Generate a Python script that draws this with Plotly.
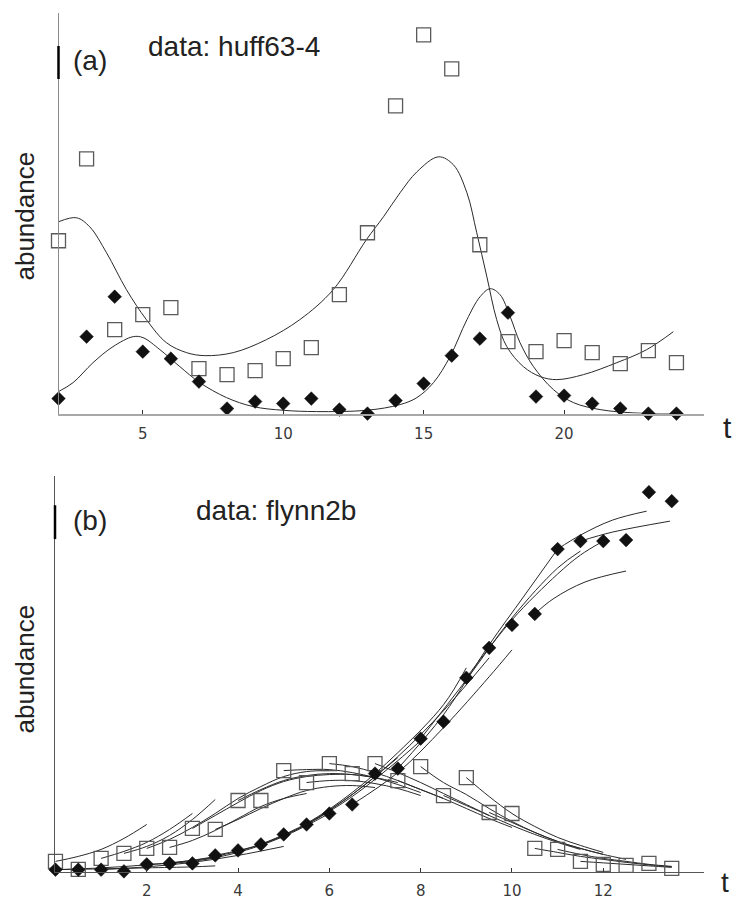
import plotly.graph_objects as go

# ---------------- panel (a): huff63-4 ----------------
A_T = list(range(2, 25))
A_PREY = [17.3, 25.5, 8.4, 9.9, 10.6, 4.5, 3.9, 4.3, 5.5, 6.6, 11.9, 18.1,
          30.8, 37.9, 34.5, 16.9, 7.2, 6.2, 7.3, 6.1, 5.0, 6.3, 5.1]
A_PRED = [1.5, 7.7, 11.7, 6.2, 5.5, 3.2, 0.5, 1.2, 1.0, 1.5, 0.4, 0.0,
          1.3, 3.0, 5.8, 7.5, 10.1, 1.7, 1.8, 1.0, 0.5, 0.0, 0.0]

A_FIT_PREY_T = [2.0, 2.64, 3.11, 3.71, 4.42, 5.13, 5.84, 6.56, 7.21, 8.22, 9.4,
                10.59, 11.78, 12.96, 13.57, 14.16, 14.76, 15.53, 16.06, 16.54,
                16.89, 17.25, 17.6, 17.96, 18.55, 19.15, 19.74, 20.69, 21.88,
                22.94, 23.89]
A_FIT_PREY_Y = [19.2, 19.6, 18.7, 16.1, 12.4, 9.4, 7.1, 6.1, 5.8, 6.1, 7.4,
                9.4, 12.4, 17.4, 19.7, 22.1, 24.2, 25.7, 24.9, 22.1, 18.1,
                13.7, 9.4, 6.7, 4.7, 3.7, 3.4, 3.9, 5.1, 6.4, 8.2]
A_FIT_PRED_T = [2.0, 2.52, 3.23, 3.94, 4.66, 5.01, 5.61, 6.32, 7.03, 7.98, 8.93,
                10.0, 11.18, 12.98, 14.16, 14.76, 15.35, 15.94, 16.54, 17.01,
                17.37, 17.72, 18.08, 18.43, 18.91, 19.62, 20.33, 21.28, 22.47,
                23.89]
A_FIT_PRED_Y = [2.2, 3.1, 5.1, 6.7, 7.7, 7.6, 6.4, 4.7, 3.1, 1.6, 0.7, 0.33,
                0.2, 0.33, 0.9, 1.6, 3.1, 5.7, 9.4, 11.7, 12.5, 11.9, 9.7, 7.1,
                4.7, 2.4, 1.1, 0.4, 0.07, 0.0]

# ---------------- panel (b): flynn2b ----------------
B_T = [0, 0.5, 1, 1.5, 2, 2.5, 3, 3.5, 4, 4.5, 5, 5.5, 6, 6.5, 7, 7.5, 8, 8.5,
       9, 9.5, 10, 10.5, 11, 11.5, 12, 12.5, 13, 13.5]
B_PREY = [1.1, 0.3, 1.4, 1.9, 2.4, 2.5, 4.4, 4.3, 7.2, 7.2, 10.2, 9.0, 10.9,
          9.9, 10.9, 9.2, 10.6, 7.7, 9.5, 6.0, 5.9, 2.4, 2.3, 1.1, 0.8, 0.7,
          0.9, 0.4]
B_PRED = [0.27, 0.27, 0.27, 0.1, 0.8, 0.9, 0.9, 1.7, 2.2, 2.8, 3.8, 4.8, 5.9,
          6.8, 9.9, 10.4, 13.4, 15.1, 19.5, 22.5, 24.8, 25.9, 32.4, 33.2, 33.2,
          33.3, 38.1, 37.2]

# short fitted trajectories (multiple shooting segments)
B_FIT_PREY_T = [
    [0, 0.5, 1, 1.5, 2],
    [1, 1.5, 2, 2.5, 3],
    [1.5, 2, 2.5, 3, 3.5],
    [2, 2.5, 3, 3.5, 4, 4.5, 5, 5.5, 6],
    [2.5, 3, 3.5, 4, 4.5, 5, 5.5],
    [3, 3.5, 4, 4.5, 5, 5.5, 6, 6.5, 7],
    [3.5, 4, 4.5, 5, 5.5, 6, 6.5, 7],
    [4, 4.5, 5, 5.5, 6, 6.5, 7, 7.5],
    [5, 5.5, 6, 6.5, 7, 7.5, 8],
    [5.5, 6, 6.5, 7, 7.5, 8],
    [6, 6.5, 7, 7.5, 8, 8.5],
    [7, 7.5, 8, 8.5, 9, 9.5],
    [7.5, 8, 8.5, 9, 9.5, 10],
    [8, 8.5, 9, 9.5, 10, 10.5, 11, 11.5, 12],
    [8.5, 9, 9.5, 10, 10.5, 11, 11.5],
    [9, 9.5, 10, 10.5, 11, 11.5, 12],
    [9.5, 10, 10.5, 11, 11.5, 12, 12.5],
    [10.5, 11, 11.5, 12, 12.5, 13, 13.5],
    [11, 11.5, 12, 12.5, 13, 13.5],
    [11.5, 12, 12.5, 13, 13.5],
]
B_FIT_PREY_Y = [
    [1.1, 1.6, 2.3, 3.4, 4.8],
    [1.4, 2.1, 3.0, 4.3, 5.9],
    [1.9, 2.6, 3.7, 5.3, 7.3],
    [2.4, 3.3, 4.5, 5.9, 7.4, 8.6, 9.6, 10.1, 10.2],
    [2.5, 3.2, 4.2, 5.4, 6.6, 7.4, 7.9],
    [4.4, 5.7, 7.0, 8.2, 9.1, 9.6, 9.8, 9.8, 9.5],
    [4.3, 5.3, 6.4, 7.4, 8.2, 8.6, 8.7, 8.5],
    [7.2, 8.3, 9.2, 9.7, 9.9, 9.8, 9.5, 9.0],
    [10.2, 10.3, 10.3, 10.0, 9.5, 8.8, 8.0],
    [9.0, 9.2, 9.2, 8.9, 8.4, 7.7],
    [10.9, 10.6, 10.0, 9.2, 8.3, 7.4],
    [10.9, 10.0, 9.0, 7.9, 6.8, 5.7],
    [9.2, 8.3, 7.4, 6.4, 5.4, 4.5],
    [10.6, 9.0, 7.8, 6.4, 5.1, 4.0, 3.1, 2.4, 1.8],
    [7.7, 6.7, 5.7, 4.7, 3.8, 3.0, 2.3],
    [9.5, 7.6, 5.9, 4.6, 3.5, 2.7, 2.0],
    [6.0, 5.0, 4.0, 3.1, 2.4, 1.8, 1.3],
    [2.4, 2.0, 1.6, 1.3, 1.0, 0.75, 0.55],
    [2.3, 1.8, 1.4, 1.1, 0.8, 0.6],
    [1.1, 0.95, 0.8, 0.65, 0.5],
]
B_FIT_PRED_T = [
    [0, 1, 2, 3, 3.5],
    [0, 1, 2, 3, 3.5],
    [1, 2, 3, 4, 5],
    [2, 3, 4, 5, 6],
    [2.5, 3.5, 4.5, 5.5, 6.5, 7.5],
    [3.5, 4.5, 5.5, 6.5, 7.5, 8],
    [4.5, 5.5, 6.5, 7.5, 8.5, 9],
    [5.5, 6.5, 7.5, 8.5, 9.5],
    [6.5, 7.5, 8.5, 9.5, 10],
    [7.5, 8.5, 9.5, 10.25, 11],
    [8, 9, 10, 11, 11.5],
    [9, 10, 11, 11.5, 12],
    [10.5, 10.9, 11.6, 12.5],
    [11, 11.5, 12.2, 12.95],
    [11.5, 12.2, 13.46],
]
B_FIT_PRED_Y = [
    [0.27, 0.35, 0.45, 0.55, 0.65],
    [0.27, 0.45, 0.75, 1.2, 1.5],
    [0.27, 0.55, 1.0, 1.7, 2.6],
    [0.8, 1.1, 2.0, 3.6, 5.9],
    [0.9, 1.6, 2.8, 4.8, 7.8, 11.5],
    [1.7, 2.8, 4.8, 7.6, 11.2, 13.2],
    [2.8, 4.9, 8.0, 12.0, 16.8, 20.5],
    [4.8, 7.8, 11.6, 16.2, 21.5],
    [6.8, 10.0, 14.5, 19.6, 22.3],
    [10.4, 15.8, 22.8, 27.6, 32.4],
    [13.4, 19.3, 25.5, 30.5, 32.2],
    [19.5, 25.3, 29.9, 31.8, 33.2],
    [25.9, 27.4, 29.1, 30.2],
    [32.4, 33.8, 35.3, 36.2],
    [33.2, 34.1, 35.2],
]


def join(segs_t, segs_y):
    xs, ys = [], []
    for t, y in zip(segs_t, segs_y):
        xs += list(t) + [None]
        ys += list(y) + [None]
    return xs, ys


LINE = dict(color="#2a2a2a", width=1, shape="spline", smoothing=1.0)
SQ = dict(symbol="square-open", size=14, color="#5a5a5a", line=dict(width=1.3, color="#5a5a5a"))
DI = dict(symbol="diamond", size=10.5, color="#111111", line=dict(width=0.5, color="#111111"))

fig = go.Figure()
# panel a
fig.add_trace(go.Scatter(x=A_FIT_PREY_T, y=A_FIT_PREY_Y, mode="lines", line=LINE,
                         xaxis="x", yaxis="y", hoverinfo="skip"))
fig.add_trace(go.Scatter(x=A_FIT_PRED_T, y=A_FIT_PRED_Y, mode="lines", line=LINE,
                         xaxis="x", yaxis="y", hoverinfo="skip"))
fig.add_trace(go.Scatter(x=A_T, y=A_PREY, mode="markers", marker=SQ,
                         xaxis="x", yaxis="y", cliponaxis=False))
fig.add_trace(go.Scatter(x=A_T, y=A_PRED, mode="markers", marker=DI,
                         xaxis="x", yaxis="y", cliponaxis=False))
# panel b
px_, py_ = join(B_FIT_PREY_T, B_FIT_PREY_Y)
fig.add_trace(go.Scatter(x=px_, y=py_, mode="lines", line=LINE, connectgaps=False,
                         xaxis="x2", yaxis="y2", hoverinfo="skip"))
zx_, zy_ = join(B_FIT_PRED_T, B_FIT_PRED_Y)
fig.add_trace(go.Scatter(x=zx_, y=zy_, mode="lines", line=LINE, connectgaps=False,
                         xaxis="x2", yaxis="y2", hoverinfo="skip"))
fig.add_trace(go.Scatter(x=B_T, y=B_PREY, mode="markers", marker=SQ,
                         xaxis="x2", yaxis="y2", cliponaxis=False))
fig.add_trace(go.Scatter(x=B_T, y=B_PRED, mode="markers", marker=DI,
                         xaxis="x2", yaxis="y2", cliponaxis=False))

W, H = 734, 900
tickfont = dict(family="DejaVu Sans", size=15, color="#3a3a3a")
xcommon = dict(showgrid=False, zeroline=False, showline=True, ticks="inside",
               ticklen=4, tickwidth=1, tickcolor="#333", tickfont=tickfont,
               ticklabelstandoff=5)
ycommon = dict(showgrid=False, zeroline=False, showline=True, showticklabels=False,
               ticks="")

fig.update_layout(
    width=W, height=H, showlegend=False,
    margin=dict(l=0, r=0, t=0, b=0),
    paper_bgcolor="white", plot_bgcolor="white",
    xaxis=dict(domain=[58.5 / W, 703.7 / W], range=[2, 24.97], tickvals=[5, 10, 15, 20],
               anchor="y", linecolor="#a8a8a8", linewidth=2, **xcommon),
    yaxis=dict(domain=[1 - 414.5 / H, 1 - 13 / H], range=[0, 40.1], anchor="x",
               linecolor="#8a8a8a", linewidth=1, **ycommon),
    xaxis2=dict(domain=[55.0 / W, 703.7 / W], range=[-0.01, 14.2],
                tickvals=[2, 4, 6, 8, 10, 12], anchor="y2", linecolor="#555",
                linewidth=1, **xcommon),
    yaxis2=dict(domain=[1 - 874.3 / H, 1 - 476.7 / H], range=[0, 39.76], anchor="x2",
                linecolor="#555", linewidth=1, **ycommon),
)

# thick mark on the vertical axis
fig.add_shape(type="line", xref="x domain", yref="y", x0=0, x1=0, y0=33.5, y1=36.8,
              line=dict(color="black", width=2.5))
fig.add_shape(type="line", xref="x2 domain", yref="y2", x0=0, x1=0, y0=33.4, y1=36.8,
              line=dict(color="black", width=2.5))

TXT = dict(family="Liberation Sans, Arial, sans-serif", color="#222222")


def ann(text, x, y, size, angle=0):
    fig.add_annotation(text=text, x=x / W, y=1 - y / H, xref="paper", yref="paper",
                       showarrow=False, xanchor="center", yanchor="middle",
                       textangle=angle, font=dict(size=size, **TXT))


ann("(a)", 90, 61, 28)
ann("data: huff63-4", 234, 47, 28)
ann("abundance", 25, 217, 26, -90)
ann("t", 727, 428, 30)
ann("(b)", 90, 522, 28)
ann("data: flynn2b", 276, 512, 28)
ann("abundance", 25, 671, 26, -90)
ann("t", 725, 884, 28)

fig.write_html("out.html")
